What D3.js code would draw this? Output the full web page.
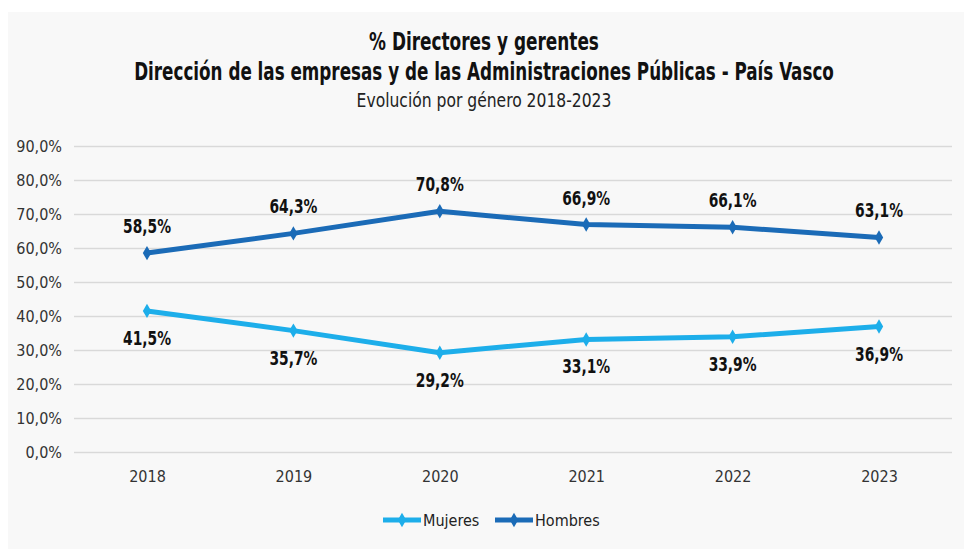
<!DOCTYPE html>
<html>
<head>
<meta charset="utf-8">
<script src="https://cdn.jsdelivr.net/npm/d3@7"></script>
<style>
  body { margin: 0; background: #fff; }
  svg text { font-family: "DejaVu Sans Condensed", "DejaVu Sans", sans-serif; font-stretch: condensed; }
</style>
</head>
<body>
<div id="chart"></div>
<script>
const years = ["2018", "2019", "2020", "2021", "2022", "2023"];
const mujeres = [41.5, 35.7, 29.2, 33.1, 33.9, 36.9];
const hombres = [58.5, 64.3, 70.8, 66.9, 66.1, 63.1];
const yTicks = [0, 10, 20, 30, 40, 50, 60, 70, 80, 90];

const width = 964,
      height = 549;

const series = [
  {name: "Mujeres", values: mujeres, color: "#1daeea", labelDy: 34},
  {name: "Hombres", values: hombres, color: "#1b6bb7", labelDy: -20}
];

let svg = d3.select("#chart")
    .append("svg")
    .attr("width", width)
    .attr("height", height);

// gray panel behind everything
svg.append("rect")
    .attr("x", 8).attr("y", 12)
    .attr("width", width - 8).attr("height", height - 12)
    .attr("fill", "#f8f8f8");

let x = d3.scalePoint().domain(years).range([147, 879]);
let y = d3.scaleLinear().domain([0, 90]).range([452, 146]);

const fmt = v => d3.format(".1f")(v).replace(".", ",") + "%";

// squeeze a centered text horizontally so it is `len` px wide (original font is condensed)
function squeeze(sel, cx, cy, len) {
  sel.attr("x", 0).attr("y", 0).attr("text-anchor", "middle");
  let w = sel.node().getComputedTextLength();
  let k = Math.min(1, len / w);
  sel.attr("transform", "translate(" + cx + "," + cy + ") scale(" + k + ",1)");
}

// titles
const titles = [
  {text: "% Directores y gerentes", y: 50, size: 24, bold: true, len: 230},
  {text: "Dirección de las empresas y de las Administraciones Públicas - País Vasco", y: 80, size: 24, bold: true, len: 700},
  {text: "Evolución por género 2018-2023", y: 107, size: 19, bold: false, len: 255}
];
titles.forEach(t => {
  let tx = svg.append("text")
    .attr("font-size", t.size)
    .attr("font-weight", t.bold ? "bold" : "normal")
    .attr("fill", t.bold ? "#111" : "#222")
    .text(t.text);
  squeeze(tx, 484, t.y, t.len);
});

// grid lines + y labels
let yAxis = svg.append("g")
    .attr("transform", "translate(74,0)")
    .call(d3.axisLeft(y).tickValues(yTicks).tickSize(-878).tickFormat(d => fmt(d)).tickPadding(12));
yAxis.select(".domain").remove();
yAxis.selectAll(".tick line").attr("stroke", "#d9d9d9").attr("stroke-width", 1.5);
yAxis.selectAll(".tick text").attr("font-size", 16).attr("fill", "#333");

// x labels
let xAxis = svg.append("g")
    .attr("transform", "translate(0,452)")
    .call(d3.axisBottom(x).tickSize(0).tickPadding(19));
xAxis.select(".domain").remove();
xAxis.selectAll(".tick text").attr("font-size", 16).attr("fill", "#333");

let line = d3.line()
    .x((d, i) => x(years[i]))
    .y(d => y(d));

const diamond = d3.symbol().type(d3.symbolDiamond).size(60);

series.forEach(s => {
  let g = svg.append("g");
  g.append("path")
    .datum(s.values)
    .attr("d", line)
    .attr("fill", "none")
    .attr("stroke", s.color)
    .attr("stroke-width", 5)
    .attr("stroke-linejoin", "round");

  g.selectAll("path.pt")
    .data(s.values)
    .enter().append("path")
    .attr("class", "pt")
    .attr("d", diamond)
    .attr("transform", (d, i) => "translate(" + x(years[i]) + "," + y(d) + ")")
    .attr("fill", s.color);

  g.selectAll("text")
    .data(s.values)
    .enter().append("text")
    .attr("font-size", 19)
    .attr("font-weight", "bold")
    .attr("fill", "#111")
    .text(d => fmt(d))
    .each(function(d, i) {
      squeeze(d3.select(this), x(years[i]), y(d) + s.labelDy, 48);
    });
});

// legend
let legend = svg.append("g");
const legendPos = [383, 495];
series.forEach((s, i) => {
  let lg = legend.append("g").attr("transform", "translate(" + legendPos[i] + ",520)");
  lg.append("line")
    .attr("x1", 0).attr("x2", 38)
    .attr("stroke", s.color).attr("stroke-width", 5);
  lg.append("path").attr("d", diamond).attr("transform", "translate(19,0)").attr("fill", s.color);
  lg.append("text").attr("x", 40).attr("y", 6)
    .attr("font-size", 16).attr("fill", "#222").text(s.name);
});
</script>
</body>
</html>
